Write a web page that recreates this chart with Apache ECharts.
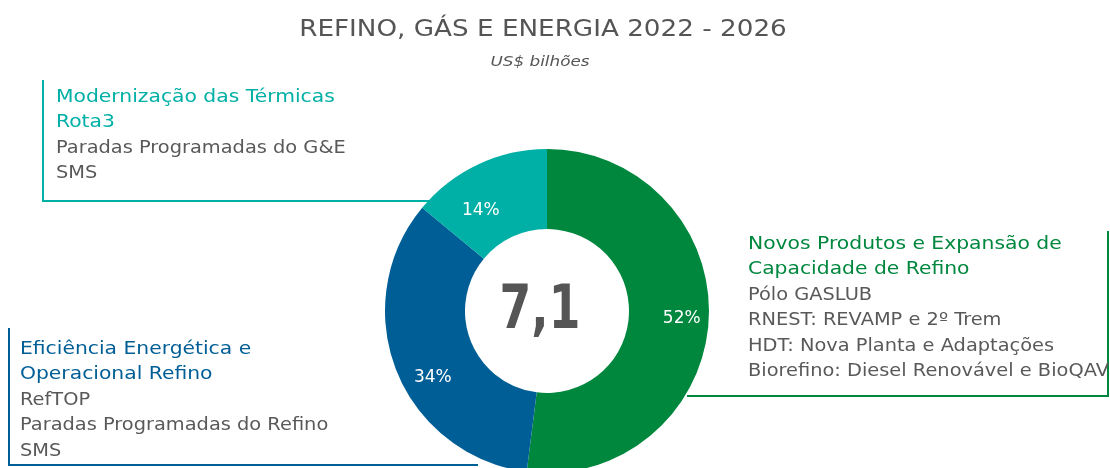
<!DOCTYPE html>
<html>
<head>
<meta charset="utf-8">
<script src="https://cdn.jsdelivr.net/npm/echarts@6/dist/echarts.min.js"></script>
<style>
  html, body { margin: 0; padding: 0; background: #fff; }
  #chart { width: 1110px; height: 468px; }
</style>
</head>
<body>
<div id="chart"></div>
<script>
// dados do gráfico
const categorias = [
  'Novos Produtos e Expansão de Capacidade de Refino',
  'Eficiência Energética e Operacional Refino',
  'Modernização das Térmicas'
];
const percentuais = [52, 34, 14];
const cores = ['#00873e', '#005e96', '#00b0a6'];
const total = '7,1';

// textos dos quadros
const tituloVerde = ['Novos Produtos e Expansão de', 'Capacidade de Refino'];
const itensVerde = ['Pólo GASLUB', 'RNEST: REVAMP e 2º Trem', 'HDT: Nova Planta e Adaptações', 'Biorefino: Diesel Renovável e BioQAV'];
const tituloAzul = ['Eficiência Energética e', 'Operacional Refino'];
const itensAzul = ['RefTOP', 'Paradas Programadas do Refino', 'SMS'];
const tituloTeal = ['Modernização das Térmicas', 'Rota3'];
const itensTeal = ['Paradas Programadas do G&E', 'SMS'];

const FONTE = '"DejaVu Sans", Verdana, sans-serif';
const cinza = '#595959';
const ESPACO = 25.6; // altura da linha nos quadros

const chart = echarts.init(document.getElementById('chart'));

// texto simples (com escala horizontal para imitar a fonte larga do original)
const texto = (x, y, t, cor, font, align, sx) => ({
  type: 'text', silent: true, x, y, scaleX: sx || 1.16,
  style: { text: t, fill: cor, font, align: align || 'left', verticalAlign: 'middle' }
});

// monta os blocos de texto (título colorido + itens cinza)
const bloco = (x, y, titulo, itens, cor) => [
  ...titulo.map((t, i) => texto(x, y + i * ESPACO, t, cor, '17.5px ' + FONTE)),
  ...itens.map((t, i) => texto(x, y + (titulo.length + i) * ESPACO, t, cinza, '17px ' + FONTE, 'left', 1.14))
];

const linha = (x1, y1, x2, y2, cor) => ({
  type: 'line', silent: true,
  shape: { x1, y1, x2, y2 },
  style: { stroke: cor, lineWidth: 2 }
});

// deslocamento fino dos rótulos percentuais
const ajusteRotulo = [[10, 0], [2, 21], [-13, 13]];

const option = {
  backgroundColor: '#fff',
  graphic: [
    texto(543, 30, 'REFINO, GÁS E ENERGIA 2022 - 2026', '#555', '23px ' + FONTE, 'center', 1.14),
    texto(540, 62, 'US$ bilhões', '#555', 'italic 14px ' + FONTE, 'center', 1.2),
    // linhas de ligação
    linha(43, 80, 43, 201, cores[2]),
    linha(42, 201, 432, 201, cores[2]),
    linha(9, 328, 9, 466, cores[1]),
    linha(8, 465, 478, 465, cores[1]),
    linha(687, 396, 1108, 396, cores[0]),
    linha(1108, 231, 1108, 397, cores[0]),
    ...bloco(56, 97, tituloTeal, itensTeal, cores[2]),
    ...bloco(20, 349, tituloAzul, itensAzul, cores[1]),
    ...bloco(748, 244, tituloVerde, itensVerde, cores[0]),
    texto(540, 312, total, '#555', 'bold 60px ' + FONTE, 'center', 0.76)
  ],
  series: [{
    type: 'pie',
    center: [547, 311],
    radius: [82, 162],
    startAngle: 90,
    clockwise: true,
    avoidLabelOverlap: false,
    silent: true,
    label: {
      show: true,
      position: 'inside',
      formatter: '{c}%',
      color: '#fff',
      fontFamily: FONTE,
      fontSize: 17
    },
    labelLayout: (p) => ({ dx: ajusteRotulo[p.dataIndex][0], dy: ajusteRotulo[p.dataIndex][1] }),
    labelLine: { show: false },
    itemStyle: { borderWidth: 0 },
    data: categorias.map((n, i) => ({ name: n, value: percentuais[i], itemStyle: { color: cores[i] } }))
  }]
};

chart.setOption(option);
</script>
</body>
</html>
